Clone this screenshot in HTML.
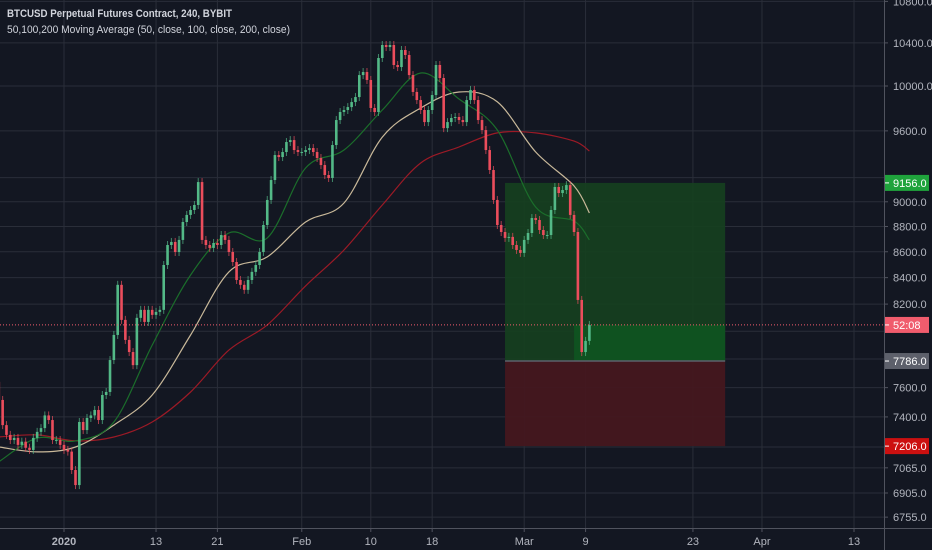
<!DOCTYPE html>
<html><head><meta charset="utf-8">
<style>
html,body{margin:0;padding:0;background:#131722;}
#wrap{position:relative;width:932px;height:550px;overflow:hidden;background:#131722;font-family:"Liberation Sans",sans-serif;}
svg text{font-family:"Liberation Sans",sans-serif;}
</style></head>
<body>
<div id="wrap">
<svg id="chart" width="932" height="550"></svg>
</div>
<script>
const closes=[7515,7345,7280,7246,7260,7214,7235,7195,7181,7260,7300,7325,7410,7379,7246,7246,7214,7181,7170,7051,6955,7366,7312,7393,7410,7447,7379,7549,7570,7793,7973,8345,8083,7937,7850,7757,8098,8157,8068,8157,8120,8142,8157,8497,8653,8677,8598,8693,8836,8893,8933,8974,9163,8693,8653,8630,8669,8653,8732,8693,8598,8520,8382,8345,8307,8382,8444,8497,8598,8812,9015,9180,9391,9374,9417,9503,9520,9434,9417,9417,9434,9451,9417,9366,9306,9222,9197,9477,9695,9766,9784,9810,9855,9900,10100,10128,10055,9802,9766,10258,10380,10361,10380,10193,10174,10333,10286,10100,9946,9873,9784,9677,9784,9918,10193,10073,9624,9677,9713,9722,9695,9677,9873,9964,9873,9695,9607,9434,9264,9015,8812,8756,8709,8717,8653,8614,8591,8693,8748,8868,8852,8772,8732,8732,8933,9122,9072,9097,9138,8893,8756,8231,7850,7930,8046];
const firstOpen=7640;
const maIdx=[0,10,20,30,40,50,60,70,80,90,100,110,120,130,140,150,154];
const ma50=[7104,7259,7240,7366,7900,8420,8748,8709,9281,9434,9784,10119,9882,9607,8957,8844,8693];
const ma100=[7200,7168,7200,7345,7549,7973,8444,8560,8836,8990,9546,9802,9946,9856,9417,9130,8909];
const ma200=[7266,7280,7240,7266,7366,7570,7864,8046,8337,8614,8974,9323,9460,9582,9582,9511,9426];
const priceTicks=[10800,10400,10000,9600,9000,8800,8600,8400,8200,7600,7400,7065,6905,6755];
const priceTickLabels=["10800.0","10400.0","10000.0","9600.0","9000.0","8800.0","8600.0","8400.0","8200.0","7600.0","7400.0","7065.0","6905.0","6755.0"];
const gridOnly=[9200,8000,7800,7200];
const dateTicks=[0,12,20,31,40,48,60,68,82,91,103];
const dateLabels=["2020","13","21","Feb","10","18","Mar","9","23","Apr","13"];
const targetPrice=9156, entryPrice=7786, stopPrice=7206, lastPrice=8046;
const boxStartDay=57.5, boxEndDay=86.2;

const NS="http://www.w3.org/2000/svg";
const svg=document.getElementById('chart');
function yS(p){return 86-1099*Math.log(p/10000);}
function xD(d){return 64+7.67*d;}
function xI(i){return xD(-8.5+i/2);}
function mk(tag,attrs,parent){const e=document.createElementNS(NS,tag);for(const k in attrs)e.setAttribute(k,attrs[k]);(parent||svg).appendChild(e);return e;}
const AX=884, BOT=528;

const grid=mk('g',{});


priceTicks.concat(gridOnly).forEach(p=>{const l=mk('line',{x1:0,x2:AX,y1:yS(p),y2:yS(p),stroke:'#2a2e39','stroke-width':1},grid);

});
dateTicks.forEach(d=>{const l=mk('line',{x1:xD(d),x2:xD(d),y1:0,y2:BOT,stroke:'#2a2e39','stroke-width':1},grid);

});

const bx1=xD(boxStartDay), bx2=xD(boxEndDay);
const pg=mk('g',{});


const r1=mk('rect',{x:bx1,y:yS(targetPrice),width:bx2-bx1,height:yS(entryPrice)-yS(targetPrice),fill:'#16401f',opacity:0.92},pg);


const r1b=mk('rect',{x:xD(66.5),y:yS(lastPrice),width:bx2-xD(66.5),height:yS(entryPrice)-yS(lastPrice),fill:'#0f5220'},pg);


const r2=mk('rect',{x:bx1,y:yS(entryPrice),width:bx2-bx1,height:yS(stopPrice)-yS(entryPrice),fill:'#44171f',opacity:0.95},pg);


const el=mk('line',{x1:bx1,x2:bx2,y1:yS(entryPrice),y2:yS(entryPrice),stroke:'#5d606b','stroke-width':1.5},pg);



function maLine(arr,color,name){
const P=maIdx.map((i,k)=>[xI(i),yS(arr[k])]);
let d='M'+P[0][0].toFixed(1)+','+P[0][1].toFixed(1);
for(let k=0;k<P.length-1;k++){const p0=P[Math.max(0,k-1)],p1=P[k],p2=P[k+1],p3=P[Math.min(P.length-1,k+2)];
const c1=[p1[0]+(p2[0]-p0[0])/6,p1[1]+(p2[1]-p0[1])/6],c2=[p2[0]-(p3[0]-p1[0])/6,p2[1]-(p3[1]-p1[1])/6];
d+=' C'+c1[0].toFixed(1)+','+c1[1].toFixed(1)+' '+c2[0].toFixed(1)+','+c2[1].toFixed(1)+' '+p2[0].toFixed(1)+','+p2[1].toFixed(1);}
const pl=mk('path',{d:d,fill:'none',stroke:color,'stroke-width':1.2});

}
maLine(ma200,'#9c1a26','ma-200-line');
maLine(ma100,'#c9b99a','ma-100-line');
maLine(ma50,'#1b6e2b','ma-50-line');

const cg=mk('g',{});


closes.forEach((c,i)=>{const o=i===0?firstOpen:closes[i-1];const up=c>=o;const col=up?'#53b987':'#eb4d5c';
const x=xI(i);const yo=yS(o),yc=yS(c);const top=Math.min(yo,yc),bot=Math.max(yo,yc);
const w=mk('line',{x1:x,x2:x,y1:top-4,y2:bot+4,stroke:col,'stroke-width':1,opacity:0.7},cg);


const b=mk('rect',{x:x-1.3,y:top,width:2.6,height:Math.max(1,bot-top),fill:col},cg);

});

const lp=mk('line',{x1:0,x2:AX,y1:yS(lastPrice),y2:yS(lastPrice),stroke:'#f05c6d','stroke-width':1,'stroke-dasharray':'1,2'});



mk('rect',{x:0,y:BOT+1,width:932,height:550-BOT,fill:'#131722'});
mk('rect',{x:AX+1,y:0,width:932-AX,height:BOT,fill:'#131722'});
const ax1=mk('line',{x1:AX+0.5,x2:AX+0.5,y1:0,y2:550,stroke:'#50535e','stroke-width':1});


const ax2=mk('line',{x1:0,x2:932,y1:BOT+0.5,y2:BOT+0.5,stroke:'#50535e','stroke-width':1});



priceTicks.forEach((p,k)=>{const y=yS(p);
mk('line',{x1:AX,x2:AX+4,y1:y,y2:y,stroke:'#50535e'});
const t=mk('text',{x:893,y:y+4,fill:'#b2b5be','font-size':11});t.textContent=priceTickLabels[k];

});
dateTicks.forEach((d,k)=>{const x=xD(d);
mk('line',{x1:x,x2:x,y1:BOT,y2:BOT+4,stroke:'#50535e'});
const t=mk('text',{x:x,y:545,fill:'#b2b5be','font-size':11,'text-anchor':'middle','font-weight':k===0?'bold':'normal'});t.textContent=dateLabels[k];

});

function badge(p,txt,color,name){const y=yS(p);
const g=mk('g',{});


mk('rect',{x:AX+1,y:y-8,width:44,height:16,fill:color},g);
mk('line',{x1:AX+1,x2:AX+5,y1:y,y2:y,stroke:'#ffffff'},g);
const t=mk('text',{x:893,y:y+4,fill:'#ffffff','font-size':11},g);t.textContent=txt;}
badge(targetPrice,'9156.0','#1fa33c','target-price-label');
badge(lastPrice,'52:08','#f05c6d','last-price-label');
badge(entryPrice,'7786.0','#5d606b','entry-price-label');
badge(stopPrice,'7206.0','#cc1010','stop-price-label');

const t1=mk('text',{x:7,y:17,fill:'#d1d4dc','font-size':11,'font-weight':'bold',textLength:225,lengthAdjust:'spacingAndGlyphs'});t1.textContent='BTCUSD Perpetual Futures Contract, 240, BYBIT';


const t2=mk('text',{x:7,y:33,fill:'#d1d4dc','font-size':11,textLength:283,lengthAdjust:'spacingAndGlyphs'});t2.textContent='50,100,200 Moving Average (50, close, 100, close, 200, close)';


</script>
</body></html>
